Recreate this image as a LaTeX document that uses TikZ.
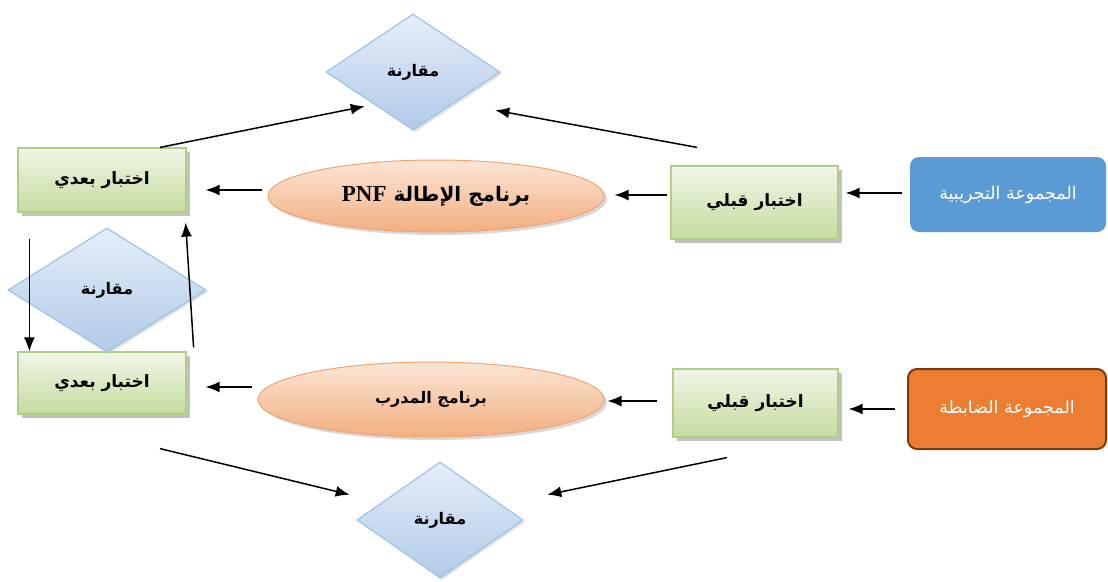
\documentclass[tikz,border=0pt]{standalone}
\usepackage{fontspec}
\usetikzlibrary{shapes.geometric,shadows,arrows.meta}
\newfontfamily\arfont[Script=Arabic]{DejaVu Sans}
\newfontfamily\serifb{Liberation Serif}
\TeXXeTstate=1
\definecolor{gtop}{HTML}{F0F6E6}
\definecolor{gbot}{HTML}{C6DB9F}
\definecolor{gdraw}{HTML}{B0CF86}
\definecolor{etop}{HTML}{FCE6D6}
\definecolor{ebot}{HTML}{F2AE80}
\definecolor{edraw}{HTML}{EFA370}
\definecolor{ddtop}{HTML}{E4EEF9}
\definecolor{ddbot}{HTML}{B2CAE8}
\definecolor{dddraw}{HTML}{9DC3E6}
\definecolor{bluebox}{HTML}{5B9BD5}
\definecolor{orangebox}{HTML}{ED7D31}
\definecolor{orangeedge}{HTML}{7A3A10}
\begin{document}
\begin{tikzpicture}[x=1pt,y=-1pt,
  greenbox/.style={rectangle, draw=gdraw, line width=1.2pt, top color=gtop, bottom color=gbot,
    drop shadow={shadow xshift=4pt, shadow yshift=-4pt, fill=black!40, opacity=0.6},
    font=\arfont\bfseries\fontsize{17}{20}\selectfont},
  progell/.style={ellipse, draw=edraw, line width=1pt, top color=etop, bottom color=ebot,
    drop shadow={shadow xshift=3pt, shadow yshift=-3pt, fill=black!30, opacity=0.5}},
  cmpd/.style={diamond, draw=dddraw, line width=1.2pt, top color=ddtop, bottom color=ddbot, inner sep=0pt,
    drop shadow={shadow xshift=2pt, shadow yshift=-2pt, fill=black!25, opacity=0.5},
    font=\arfont\bfseries\fontsize{16}{18}\selectfont},
  groupbox/.style={rectangle, rounded corners=9pt, text=white, font=\arfont\fontsize{17.5}{20}\selectfont},
  arr/.style={-{Latex[length=14pt,width=11pt]}, line width=1.5pt}
]
\useasboundingbox (0,0) rectangle (1108,581);

\node[groupbox, fill=bluebox, minimum width=196pt, minimum height=75pt] (blue) at (1008,194.5) {\beginR المجموعة التجريبية\endR};
\node[groupbox, fill=orangebox, draw=orangeedge, line width=2pt, minimum width=198pt, minimum height=80pt] (orange) at (1007,409) {\beginR المجموعة الضابطة\endR};

\node[greenbox, minimum width=167pt, minimum height=73pt] (ptop) at (754.5,202.5) {\beginR اختبار قبلي\endR};
\node[greenbox, minimum width=165pt, minimum height=68pt] (pbot) at (755.5,403) {\beginR اختبار قبلي\endR};

\node[progell, minimum width=336pt, minimum height=72pt] (e1) at (436,196)
  {\arfont\bfseries\fontsize{20}{24}\selectfont\beginR برنامج الإطالة \beginL{\serifb\bfseries\fontsize{23}{26}\selectfont PNF}\endL\endR};
\node[progell, minimum width=346pt, minimum height=75pt] (e2) at (431,399.5)
  {\arfont\bfseries\fontsize{16}{19}\selectfont\beginR برنامج المدرب\endR};

\node[greenbox, minimum width=168pt, minimum height=64pt] (postT) at (102,180) {\beginR اختبار بعدي\endR};
\node[greenbox, minimum width=168pt, minimum height=62pt] (postB) at (102,383) {\beginR اختبار بعدي\endR};

\node[cmpd, minimum width=174pt, minimum height=116pt] (dtop) at (413,72) {\beginR مقارنة\endR};
\node[cmpd, minimum width=198pt, minimum height=124pt] (dmid) at (107,290) {\beginR مقارنة\endR};
\node[cmpd, minimum width=166pt, minimum height=116pt] (dbot) at (440,520) {\beginR مقارنة\endR};

\draw[arr] ([shift={(-8,-1.5)}]blue.west) -- ([shift={(7,-9.5)}]ptop.east);
\draw[arr] ([shift={(-12,0)}]orange.west) -- ([shift={(10,6)}]pbot.east);
\draw[arr] ([shift={(-3,-7.5)}]ptop.west) -- ([shift={(10,-1)}]e1.east);
\draw[arr] ([shift={(-6,-6)}]e1.west) -- ([shift={(19,10)}]postT.east);
\draw[arr] ([shift={(-15,-2)}]pbot.west) -- ([shift={(3,1.5)}]e2.east);
\draw[arr] ([shift={(-6,-12.5)}]e2.west) -- ([shift={(19,4)}]postB.east);
\draw[arr] ([shift={(58,0)}]postT.north) -- ([shift={(-4.5,5)}]dtop.south west);
\draw[arr] ([shift={(-57.5,-18)}]ptop.north) -- ([shift={(38.5,9)}]dtop.south east);
\draw[arr] ([shift={(58,34)}]postB.south) -- ([shift={(-48.5,4)}]dbot.north west);
\draw[arr] ([shift={(-28.5,20)}]pbot.south) -- ([shift={(65.5,4)}]dbot.north east);
\draw[arr] ([shift={(12,26)}]postT.south west) -- ([shift={(12,0)}]postB.north west);
\draw[arr] ([shift={(7,-4)}]postB.north east) -- ([shift={(-1,10)}]postT.south east);
\end{tikzpicture}
\end{document}
